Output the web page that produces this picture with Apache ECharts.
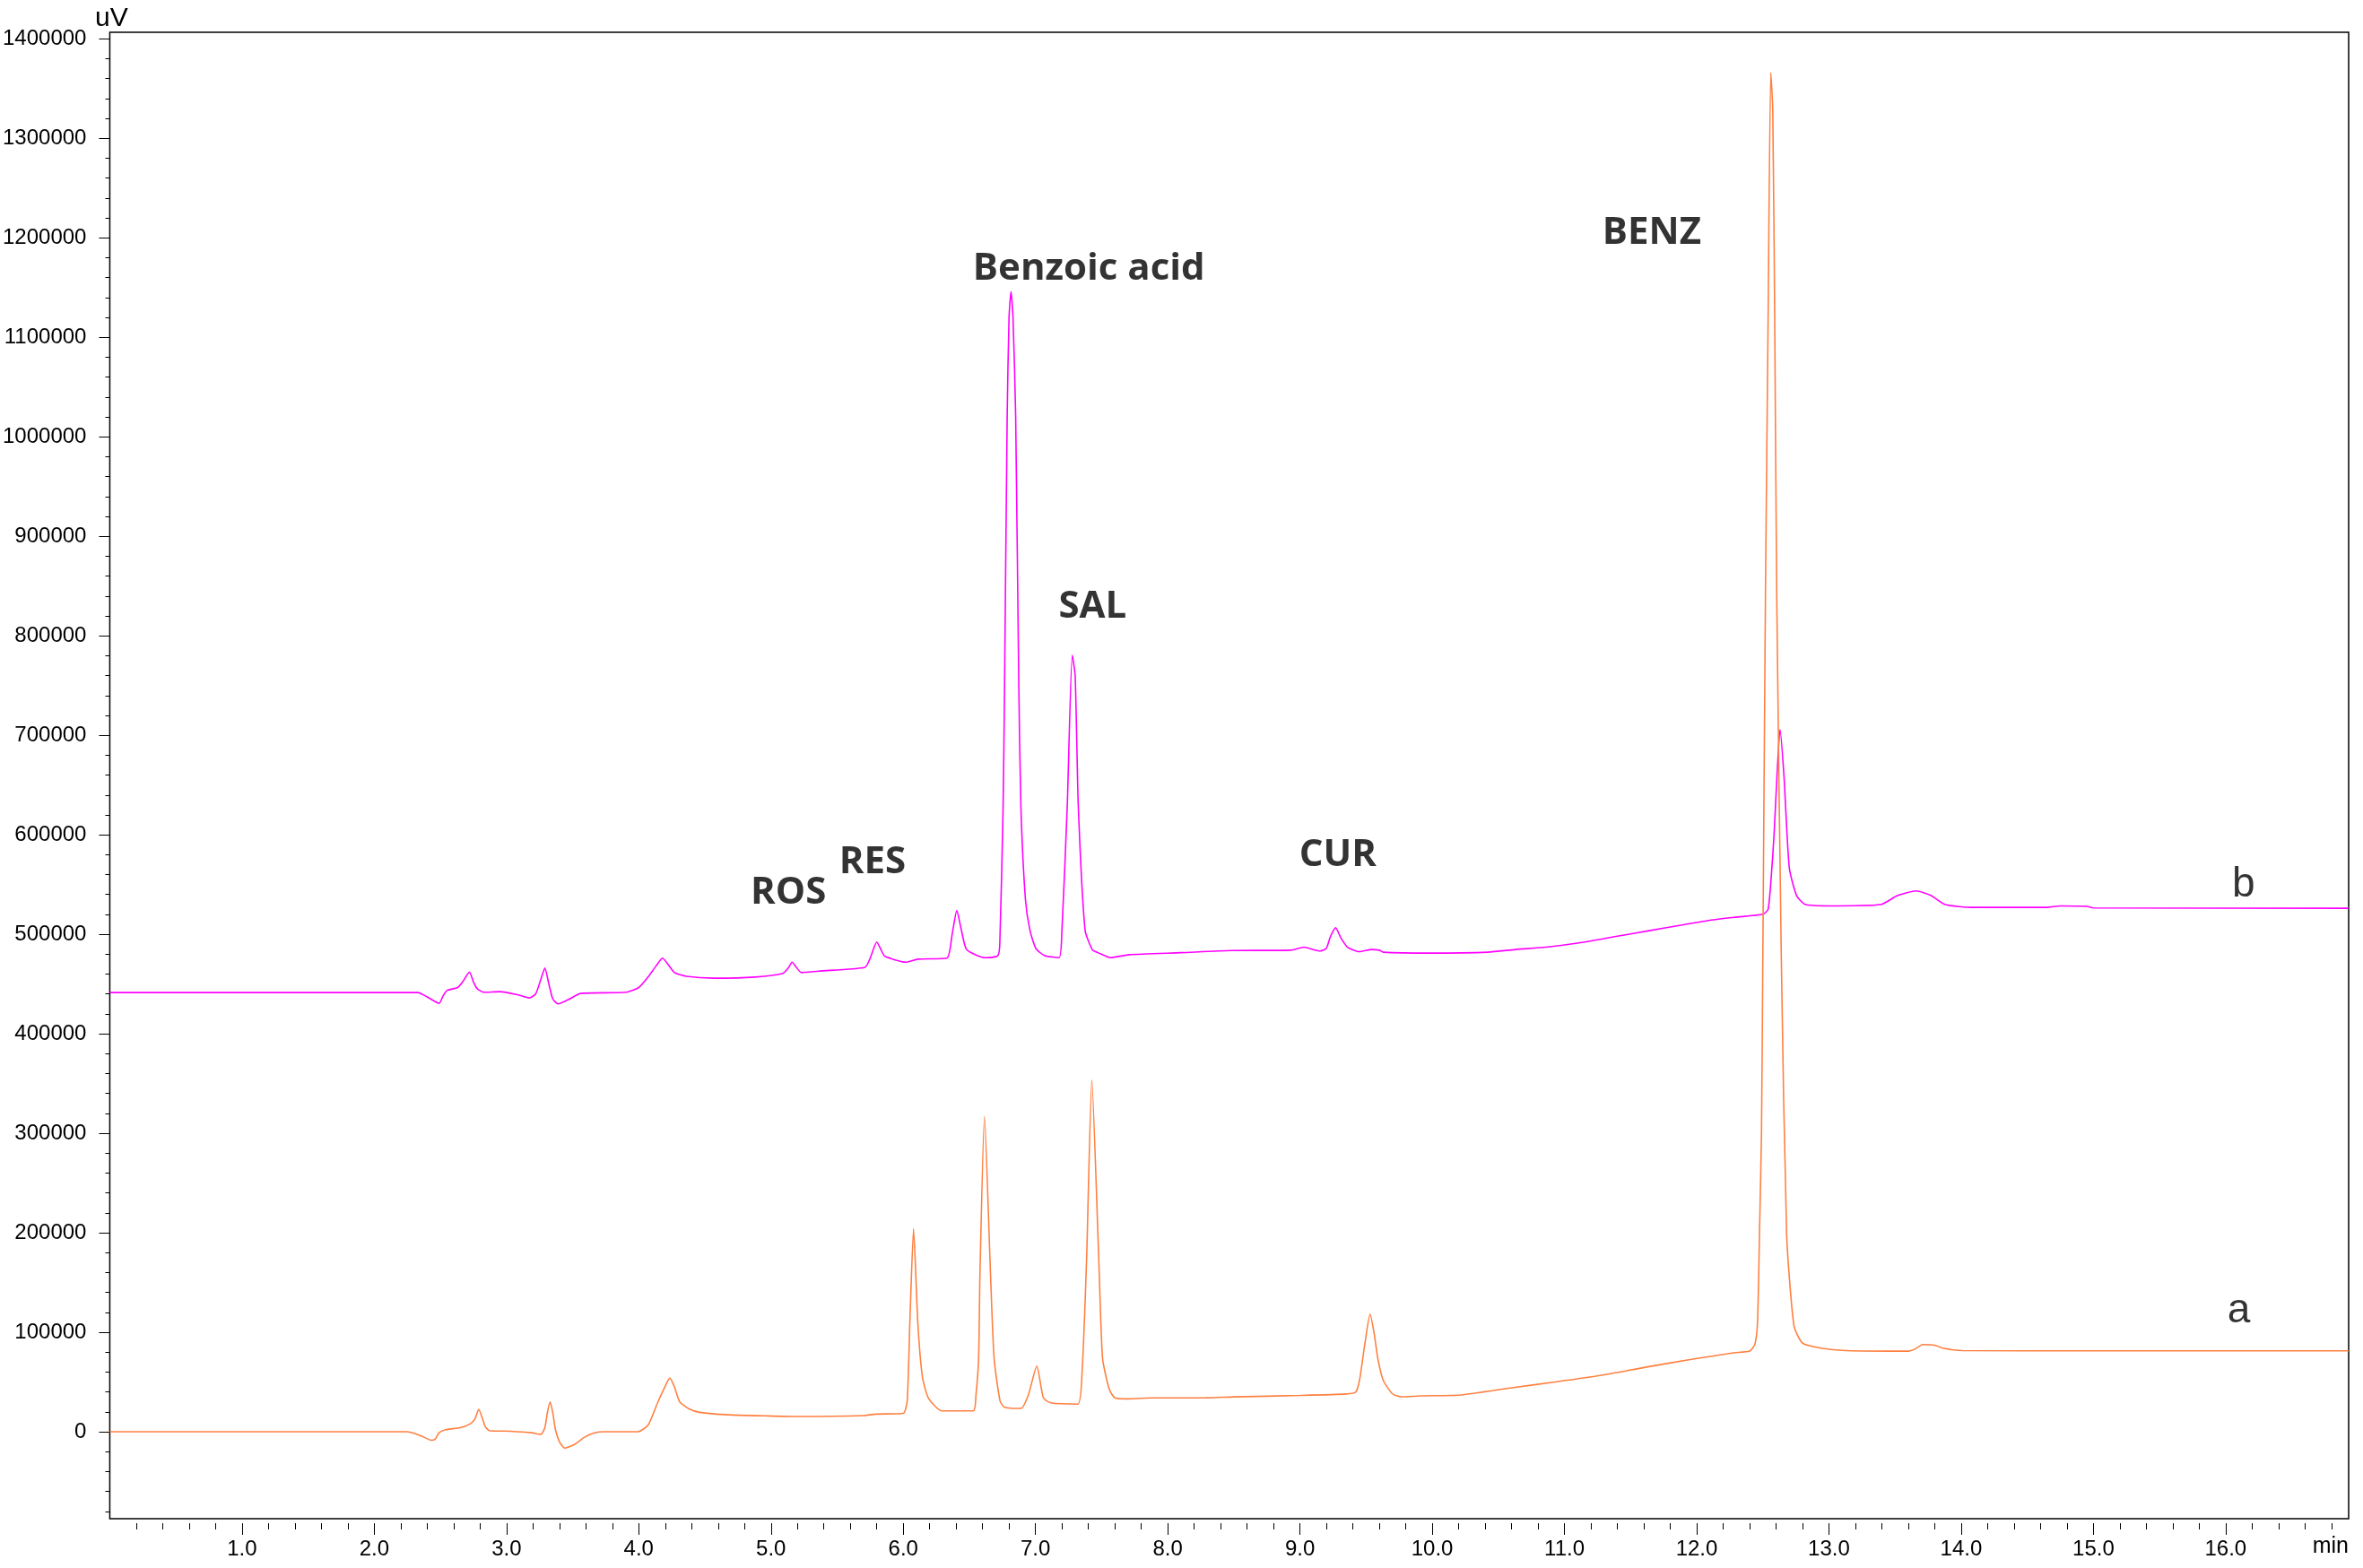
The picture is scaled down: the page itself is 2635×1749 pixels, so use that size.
<!DOCTYPE html>
<html>
<head>
<meta charset="utf-8">
<script src="https://cdn.jsdelivr.net/npm/echarts@6/dist/echarts.min.js"></script>
<style>
  html, body { margin: 0; padding: 0; background: #fff; }
  #main { width: 2635px; height: 1749px; }
</style>
</head>
<body>
<div id="main"></div>
<script>
// trace a (orange): [time min, signal uV]
const traceA = [
  [0,0],[2.25,0],[2.30,-1500],[2.36,-4500],[2.43,-8500],[2.46,-7500],[2.49,-1000],[2.54,2000],
  [2.65,4000],[2.72,7500],[2.76,12500],[2.79,22500],[2.82,12500],[2.84,5000],[2.87,1200],[3.03,500],
  [3.19,-1000],[3.26,-2600],[3.29,4000],[3.31,20000],[3.33,30000],[3.35,19000],[3.37,2000],[3.40,-10000],
  [3.44,-16500],[3.51,-13000],[3.59,-5500],[3.66,-1300],[3.74,0],[3.99,0],[4.07,6500],[4.145,30000],
  [4.19,43000],[4.235,54000],[4.27,45000],[4.31,30000],[4.38,23000],[4.46,19500],[4.68,17000],[4.95,16000],
  [5.20,15300],[5.70,16200],[5.79,17700],[6.00,18500],[6.03,31000],[6.05,110000],[6.078,204000],[6.11,110000],
  [6.145,55000],[6.19,34000],[6.29,21000],[6.53,21000],[6.55,37000],[6.57,74000],[6.58,158000],[6.614,317000],
  [6.66,158000],[6.687,74000],[6.732,31000],[6.766,24600],[6.89,23400],[6.946,37000],[7.01,66000],[7.06,34000],
  [7.116,29000],[7.32,27700],[7.353,61500],[7.387,176000],[7.426,353500],[7.478,176000],[7.507,74000],[7.557,43000],
  [7.60,34000],[7.70,33000],[7.87,34000],[8.29,34100],[8.5,35000],[9.0,36500],[9.35,38000],[9.42,39700],
  [9.45,51600],[9.49,87700],[9.53,118300],[9.56,99600],[9.59,72600],[9.63,51600],[9.70,38100],[9.77,35100],
  [9.91,36000],[10.22,37000],[10.59,44000],[10.93,50000],[11.28,56700],[11.62,65000],[11.97,73000],[12.28,79300],
  [12.40,81000],[12.44,88000],[12.46,110000],[12.475,200000],[12.49,300000],[12.50,475000],[12.52,843000],[12.54,1118000],
  [12.56,1366000],[12.575,1330000],[12.59,1118000],[12.605,843000],[12.64,475000],[12.68,199000],[12.735,107000],[12.80,89000],
  [12.94,84000],[13.13,81600],[13.60,81000],[13.65,83000],[13.71,87700],[13.80,87000],[13.86,84000],[14.01,81600],
  [15.0,81300],[16.93,81300]
]

// trace b (magenta)
const traceB = [
  [0,441400],[2.33,441400],[2.40,437000],[2.49,430600],[2.52,438000],[2.55,443500],[2.63,446500],[2.67,452500],
  [2.72,462000],[2.75,452000],[2.78,445000],[2.83,441700],[2.95,442300],[3.09,439000],[3.17,436000],[3.22,440000],
  [3.26,455000],[3.29,466000],[3.32,450000],[3.35,435000],[3.39,430000],[3.47,434500],[3.56,440500],[3.90,441700],
  [4.0,446500],[4.07,457000],[4.13,468000],[4.18,476000],[4.22,470000],[4.27,461500],[4.36,457700],[4.57,455800],
  [4.88,457000],[5.09,460600],[5.13,466000],[5.16,472000],[5.19,467000],[5.23,461500],[5.36,463000],[5.71,466700],
  [5.75,476000],[5.80,492200],[5.83,485000],[5.86,478000],[6.02,472000],[6.11,475000],[6.33,476000],[6.37,500000],
  [6.405,524000],[6.44,504000],[6.48,484500],[6.62,476500],[6.714,478400],[6.73,490000],[6.755,627000],[6.766,748000],
  [6.786,1022000],[6.80,1120000],[6.815,1146000],[6.83,1120000],[6.85,1022000],[6.874,748000],[6.89,627000],[6.924,535000],
  [6.958,504000],[7.003,485700],[7.07,478400],[7.179,476500],[7.20,504000],[7.24,628000],[7.278,780500],[7.30,760000],
  [7.324,628000],[7.375,504000],[7.43,484500],[7.477,481300],[7.567,476500],[7.71,479500],[8.1,481500],[8.48,483600],
  [8.93,484000],[9.03,487000],[9.15,483200],[9.20,486000],[9.23,497600],[9.27,506500],[9.31,496100],[9.36,487000],
  [9.45,482500],[9.54,484700],[9.60,484000],[9.63,482000],[9.98,481100],[10.42,482000],[10.63,484700],[10.86,487000],
  [11.12,491500],[11.38,497600],[11.64,503600],[11.90,509600],[12.10,514100],[12.29,517100],[12.50,520100],[12.54,525000],
  [12.565,560000],[12.585,600000],[12.607,659000],[12.63,706000],[12.66,659000],[12.70,567000],[12.755,539000],[12.82,530000],
  [13.0,528500],[13.39,529800],[13.52,539000],[13.66,543600],[13.77,539000],[13.88,529800],[14.09,527000],[14.65,527000],
  [14.75,528500],[14.95,528000],[15.0,526500],[16.93,526100]
]

// peak names and where they sit
const peakNames = ['ROS', 'RES', 'Benzoic acid', 'SAL', 'CUR', 'BENZ']
const peakSpots = [[5.132,541400],[5.767,572400],[7.404,1168500],[7.432,828800],[9.286,579400],[11.66,1205000]]
const traceNames = ['b', 'a']
const traceSpots = [[16.135,549000],[16.10,121000]]

const xTicks = [1,2,3,4,5,6,7,8,9,10,11,12,13,14,15,16]
const yTicks = [0,100000,200000,300000,400000,500000,600000,700000,800000,900000,1000000,1100000,1200000,1300000,1400000]

const xMinor = []
for (let i = 1; i <= 84; i++) xMinor.push(+(i * 0.2).toFixed(1))
const yMinor = []
for (let v = -80000; v <= 1400000; v += 20000) yMinor.push(v)

const tickFont = "'Liberation Sans Narrow', 'Liberation Sans', sans-serif"
const X_MIN = 0, X_MAX = 16.93, Y_MIN = -87400, Y_MAX = 1406600

var myChart = echarts.init(document.getElementById('main'))

const xBase = {
    type: 'value', min: X_MIN, max: X_MAX, position: 'bottom', offset: 5,
    axisLine: { show: false, onZero: false },
    splitLine: { show: false }
}
const yBase = {
    type: 'value', min: Y_MIN, max: Y_MAX, position: 'left',
    axisLine: { show: false, onZero: false },
    splitLine: { show: false }
}

myChart.setOption({
    animation: false,
    backgroundColor: '#fff',
    grid: {
        left: 119, right: 16, top: 36, bottom: 55,
        show: true, borderColor: '#000', borderWidth: 1.5, backgroundColor: 'transparent'
    },
    xAxis: [
        Object.assign({}, xBase, {
            axisTick: { show: true, length: 13, customValues: xTicks, lineStyle: { color: '#000', width: 1 } },
            axisLabel: {
                customValues: xTicks, margin: 17, color: '#000',
                fontFamily: tickFont, fontSize: 24,
                formatter: v => v.toFixed(1)
            }
        }),
        Object.assign({}, xBase, {
            axisTick: { show: true, length: 7, customValues: xMinor, lineStyle: { color: '#000', width: 1 } },
            axisLabel: { show: false }
        })
    ],
    yAxis: [
        Object.assign({}, yBase, {
            axisTick: { show: true, length: 12, customValues: yTicks, lineStyle: { color: '#000', width: 1 } },
            axisLabel: {
                customValues: yTicks, margin: 26, color: '#000',
                fontFamily: tickFont, fontSize: 24,
                formatter: v => String(v)
            }
        }),
        Object.assign({}, yBase, {
            axisTick: { show: true, length: 5, customValues: yMinor, lineStyle: { color: '#000', width: 1 } },
            axisLabel: { show: false }
        })
    ],
    graphic: [
        { type: 'text', x: 106, y: 6, style: { text: 'uV', font: "30px 'Liberation Sans Narrow', 'Liberation Sans'", fill: '#000' } },
        { type: 'text', x: 2619, y: 1713, style: { text: 'min', font: "25px 'Liberation Sans Narrow', 'Liberation Sans'", fill: '#000', align: 'right', textAlign: 'right' } }
    ],
    series: [
        {
            name: 'a', type: 'line', data: traceA, symbol: 'none', smooth: 0.2,
            lineStyle: { color: '#ff8040', width: 1.6 }, itemStyle: { color: '#ff8040' }, z: 3
        },
        {
            name: 'b', type: 'line', data: traceB, symbol: 'none', smooth: 0.2,
            lineStyle: { color: '#ff00ff', width: 1.6 }, itemStyle: { color: '#ff00ff' }, z: 2
        },
        {
            type: 'scatter', symbolSize: 0, silent: true, z: 5,
            data: peakNames.map((n, i) => ({ name: n, value: peakSpots[i] })),
            label: {
                show: true, position: 'inside', formatter: '{b}', color: '#000',
                fontFamily: 'Open Sans', fontWeight: 'bold', fontSize: 42
            }
        },
        {
            type: 'scatter', symbolSize: 0, silent: true, z: 5,
            data: traceNames.map((n, i) => ({ name: n, value: traceSpots[i] })),
            label: {
                show: true, position: 'inside', formatter: '{b}', color: '#000',
                fontFamily: 'Liberation Sans', fontSize: 46
            }
        }
    ]
})
</script>
</body>
</html>
